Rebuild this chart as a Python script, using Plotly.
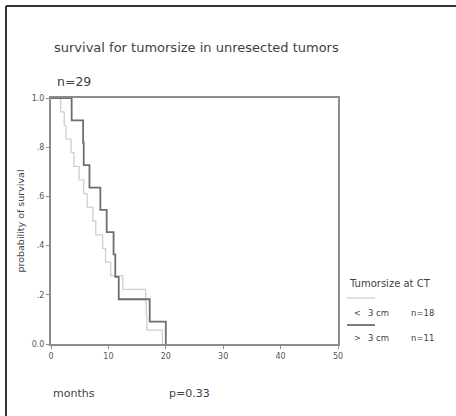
import plotly.graph_objects as go

# Kaplan-Meier step data
months_small = [0, 1.7, 2.3, 2.6, 3.5, 4.0, 4.9, 5.7, 6.3, 7.3, 7.8, 9.0, 9.5, 10.4, 12.5, 16.5, 16.6, 16.7, 19.4]
surv_small = [1.0, .944, .889, .833, .778, .722, .667, .611, .556, .5, .444, .389, .333, .278, .222, .167, .111, .056, 0.0]

months_large = [0, 3.6, 5.6, 5.7, 6.7, 8.6, 9.7, 10.9, 11.2, 11.8, 17.2, 20.0]
surv_large = [1.0, .909, .818, .727, .636, .545, .455, .364, .273, .182, .091, 0.0]

x_ticks = [0, 10, 20, 30, 40, 50]
y_ticks = [0, .2, .4, .6, .8, 1.0]
y_tick_labels = ["0.0", ".2", ".4", ".6", ".8", "1.0"]

name_small = "< 3 cm   n=18"
name_large = "> 3 cm   n=11"

LIGHT = "#cfcfcf"
DARK = "#6e6e6e"
AX = "#8c8c8c"
TXT = "#3f3f3f"
FONT = "DejaVu Sans, Liberation Sans, sans-serif"

fig = go.Figure()
fig.add_trace(go.Scatter(x=months_small, y=surv_small, mode="lines", line_shape="hv",
                         line=dict(color=LIGHT, width=1.3), name=name_small, showlegend=False))
fig.add_trace(go.Scatter(x=months_large, y=surv_large, mode="lines", line_shape="hv",
                         line=dict(color=DARK, width=1.8), name=name_large, showlegend=False))

fig.update_layout(
    width=456, height=416,
    margin=dict(l=51, r=118, t=98, b=72),
    paper_bgcolor="white", plot_bgcolor="white",
    font=dict(family=FONT, color=TXT),
    xaxis=dict(range=[0, 50], tickvals=x_ticks, ticks="outside", ticklen=3, tickcolor=AX,
               showline=True, linecolor=AX, linewidth=2, mirror=True, showgrid=False,
               zeroline=False, tickfont=dict(size=8, color="#555")),
    yaxis=dict(range=[0, 1.0], tickvals=y_ticks, ticktext=y_tick_labels, ticks="outside",
               ticklen=3, tickcolor=AX, showline=True, linecolor=AX, linewidth=2, mirror=True,
               showgrid=False, zeroline=False, tickfont=dict(size=8, color="#555"),
               title=dict(text="probability of survival", font=dict(size=9.5, color="#444"), standoff=5)),
)

ann = [
    dict(text="survival for tumorsize in unresected tumors", x=52, y=48, size=13),
    dict(text="n=29", x=55, y=81, size=12.5),
    dict(text="months", x=51, y=393, size=11),
    dict(text="p=0.33", x=167, y=393, size=11),
    dict(text="Tumorsize at CT", x=347, y=283, size=10),
    dict(text="<", x=352, y=313, size=8),
    dict(text="3 cm", x=366, y=313, size=8.5),
    dict(text="n=18", x=409, y=313, size=8.5),
    dict(text=">", x=352, y=338, size=8),
    dict(text="3 cm", x=366, y=338, size=8.5),
    dict(text="n=11", x=409, y=338, size=8.5),
]
for a in ann:
    fig.add_annotation(text=a["text"], xref="paper", yref="paper",
                       x=(a["x"] - 51) / 287, y=(344 - a["y"]) / 246,
                       xanchor="left", yanchor="middle", showarrow=False,
                       font=dict(size=a["size"], color=TXT, family=FONT))

def px(xp, yp):
    return (xp - 51) / 287, (344 - yp) / 246

# legend line samples
for (y, col, w) in [(298, LIGHT, 1.3), (325, DARK, 1.8)]:
    x0, y0 = px(347, y)
    x1, _ = px(375, y)
    fig.add_shape(type="line", xref="paper", yref="paper", x0=x0, y0=y0, x1=x1, y1=y0,
                  line=dict(color=col, width=w))

# outer frame (left and top)
fx, fy = px(6, 6)
fx2, _ = px(456, 6)
_, fy2 = px(6, 416)
fig.add_shape(type="line", xref="paper", yref="paper", x0=fx, y0=fy, x1=fx2, y1=fy,
              line=dict(color="#333", width=2))
fig.add_shape(type="line", xref="paper", yref="paper", x0=fx, y0=fy, x1=fx, y1=fy2,
              line=dict(color="#333", width=2))

fig.write_html("out.html")
